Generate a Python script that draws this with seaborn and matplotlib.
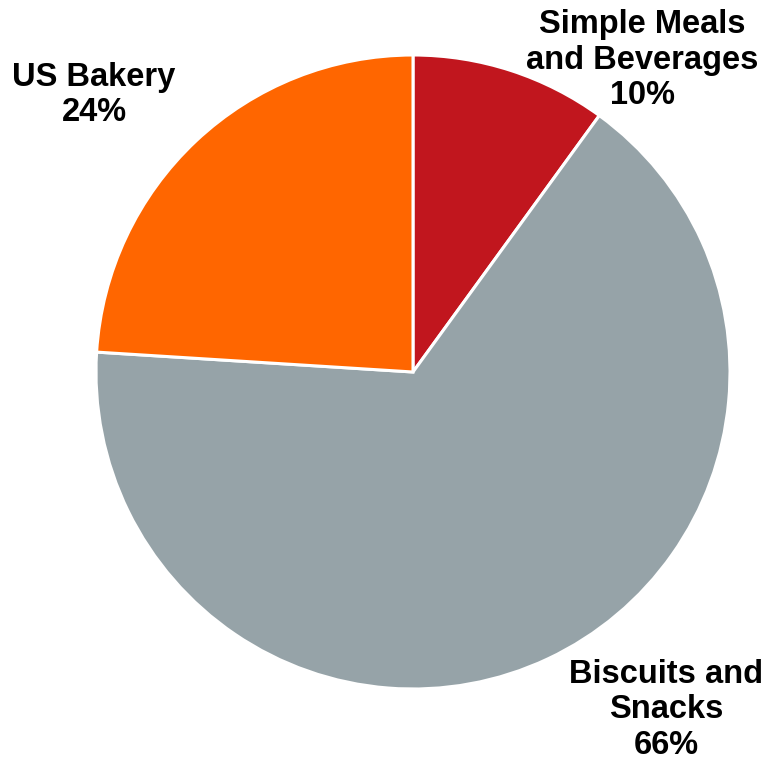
import matplotlib
matplotlib.use("Agg")
import matplotlib.pyplot as plt
import seaborn as sns

categories = ["Simple Meals\nand Beverages", "Biscuits and\nSnacks", "US Bakery"]
values = [10, 66, 24]
colors = ["#C1161E", "#96A3A8", "#FF6600"]

sns.set_theme(style="white")
plt.rcParams['font.family'] = ['Liberation Sans', 'DejaVu Sans']

W, H = 766, 764
fig = plt.figure(figsize=(W / 100, H / 100), dpi=100)
cx, cy, r = 413, 372, 317
ax = fig.add_axes([(cx - r) / W, (H - cy - r) / H, 2 * r / W, 2 * r / H])
ax.pie(values, colors=colors, startangle=90, counterclock=False, radius=1,
       wedgeprops=dict(edgecolor="white", linewidth=2.2))
ax.set_xlim(-1, 1)
ax.set_ylim(-1, 1)
ax.set_aspect("equal")
ax.axis("off")

label_pos = [(642, 60), (666, 710), (94, 95)]
for cat, val, (x, y) in zip(categories, values, label_pos):
    fig.text(x / W, 1 - y / H, f"{cat}\n{val}%", ha="center", va="center",
             fontsize=23.5, fontweight="bold", color="black", linespacing=1.2)

fig.savefig("out.png", dpi=100)
